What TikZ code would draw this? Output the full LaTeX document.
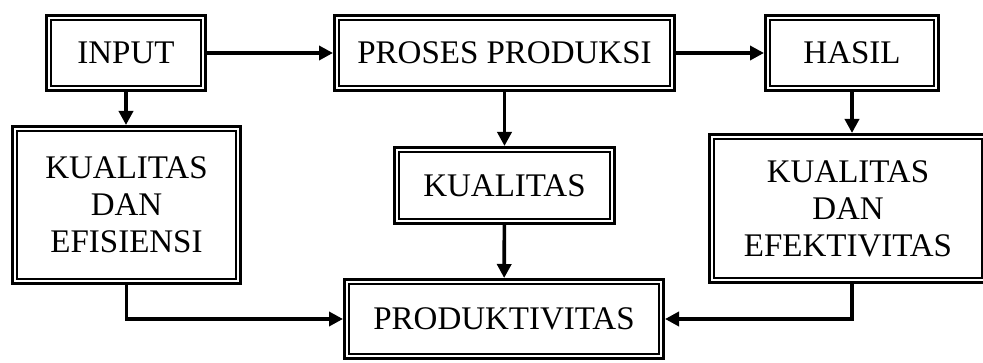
\documentclass[tikz,border=0pt]{standalone}
\usepackage{fontspec}
\setmainfont{Liberation Serif}
\usepackage{tikz}
\usetikzlibrary{arrows.meta,positioning,calc}
\tikzset{
    kotak/.style={rectangle, draw=black, line width=2.6pt, double=white, double distance=2pt,
        outer sep=3.6pt, inner sep=0pt, align=center, font=\fontsize{33}{37}\selectfont},
    panah/.style={line width=3.6pt, -{Triangle[length=14pt,width=14pt]}},
}

\begin{document}
\begin{tikzpicture}[x=1pt, y=-1pt]
    \useasboundingbox (0,0) rectangle (983,363);

    % Baris atas
    \node[kotak, minimum width=154.8pt, minimum height=70.8pt] (inp) at (126, 53) {INPUT};
    \node[kotak, minimum width=335.8pt, minimum height=70.8pt] (proses) at (504.5, 53) {PROSES PRODUKSI};
    \node[kotak, minimum width=168.8pt, minimum height=70.8pt] (hasil) at (852, 53) {HASIL};

    % Baris tengah
    \node[kotak, minimum width=223.8pt, minimum height=152.8pt] (kef) at (126.5, 205) {KUALITAS\\DAN\\EFISIENSI};
    \node[kotak, minimum width=215.8pt, minimum height=71.8pt] (kual) at (504.5, 185.5) {KUALITAS};
    \node[kotak, minimum width=272.8pt, minimum height=143.8pt] (kee) at (848, 208.5) {KUALITAS\\DAN\\EFEKTIVITAS};

    % Hasil akhir
    \node[kotak, minimum width=314.8pt, minimum height=74.8pt] (prod) at (504, 319) {PRODUKTIVITAS};

    % Hubungan
    \draw[panah] (inp) -- (proses);
    \draw[panah] (proses) -- (hasil);
    \draw[panah] (inp.south) -- (inp.south |- kef.north);
    \draw[panah] (proses) -- (kual);
    \draw[panah] (hasil.south) -- (hasil.south |- kee.north);
    \draw[panah] (kual) -- (prod);
    \draw[panah] (kef.south) |- (prod.west);
    \draw[panah] (hasil.south |- kee.south) |- (prod.east);
\end{tikzpicture}
\end{document}
